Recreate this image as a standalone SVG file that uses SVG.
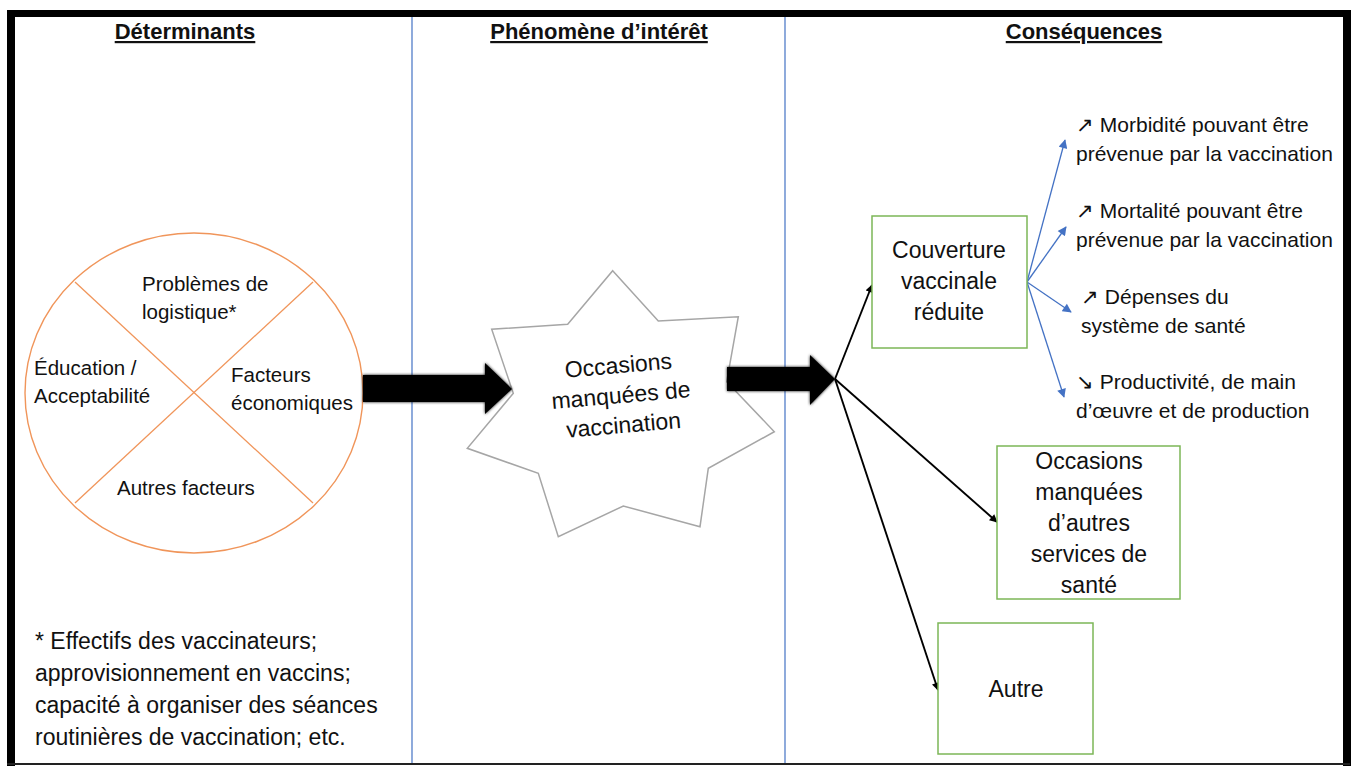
<svg xmlns="http://www.w3.org/2000/svg" width="1353" height="766" viewBox="0 0 1353 766">
<style>
text{font-family:"Liberation Sans",Arial,sans-serif;fill:#111}
.hdr{font-size:22px;font-weight:bold;text-decoration:underline;text-anchor:middle}
.c{font-size:20.5px}
.r{font-size:21px}
.box{fill:#fff;stroke:#7CB657;stroke-width:1.5}
.bt{font-size:23px;text-anchor:middle}
.fn{font-size:23px}
.div{stroke:#4472C4;stroke-width:1.2}
.blk{stroke:#000;stroke-width:1.9;fill:none}
.blu{stroke:#4472C4;stroke-width:1.3;fill:none}
</style>
<defs>
<marker id="mb" viewBox="0 0 10 10" refX="9" refY="5" markerWidth="9" markerHeight="8" markerUnits="userSpaceOnUse" orient="auto"><path d="M0,0 L10,5 L0,10 z" fill="#000"/></marker>
<marker id="mu" viewBox="0 0 10 10" refX="9" refY="5" markerWidth="10" markerHeight="9" markerUnits="userSpaceOnUse" orient="auto"><path d="M0,0 L10,5 L0,10 z" fill="#4472C4"/></marker>
<filter id="soft" x="-10%" y="-30%" width="120%" height="160%"><feGaussianBlur stdDeviation="1.5"/></filter>
</defs>
<rect width="1353" height="766" fill="#fff"/>
<g id="frame">
<rect x="7" y="10" width="1343" height="7" fill="#000"/>
<rect x="7" y="10" width="8" height="756" fill="#000"/>
<rect x="1343" y="10" width="8" height="756" fill="#000"/>
<line x1="7" y1="764" x2="1350" y2="764" stroke="#222" stroke-width="2"/>
<line class="div" x1="412" y1="17" x2="412" y2="763"/>
<line class="div" x1="785" y1="17" x2="785" y2="763"/>
</g>
<g id="headers">
<text class="hdr" x="185" y="39">Déterminants</text>
<text class="hdr" x="599" y="39">Phénomène d’intérêt</text>
<text class="hdr" x="1084" y="39">Conséquences</text>
</g>
<g id="determinants">
<ellipse cx="194" cy="393" rx="169" ry="160" fill="#fff" stroke="#F0955A" stroke-width="1.4"/>
<line x1="75" y1="282" x2="313" y2="503" stroke="#F0955A" stroke-width="1.3"/>
<line x1="313" y1="282" x2="75" y2="503" stroke="#F0955A" stroke-width="1.3"/>
<text class="c" x="142" y="291">Problèmes de</text>
<text class="c" x="142" y="319">logistique*</text>
<text class="c" x="34" y="375">Éducation /</text>
<text class="c" x="34" y="403">Acceptabilité</text>
<text class="c" x="231" y="382">Facteurs</text>
<text class="c" x="231" y="410">économiques</text>
<text class="c" x="117" y="495">Autres facteurs</text>
</g>
<g id="footnote">
<text class="fn" x="35" y="649">* Effectifs des vaccinateurs;</text>
<text class="fn" x="35" y="681">approvisionnement en vaccins;</text>
<text class="fn" x="35" y="713">capacité à organiser des séances</text>
<text class="fn" x="35" y="745">routinières de vaccination; etc.</text>
</g>
<g id="phenomene">
<polygon points="612.7,270.7 658.3,321 738.3,316.7 726.7,381.7 774.3,431.7 708.3,468.3 700,526.7 623.3,506 558.3,536.7 538.3,473.3 467.3,448.3 513.3,393.3 491.7,329.3 567.7,324.3" fill="#fff" stroke="#A6A6A6" stroke-width="1.5"/>
<g transform="rotate(-5 621 396)">
<text class="bt" x="621" y="373">Occasions</text>
<text class="bt" x="621" y="403">manquées de</text>
<text class="bt" x="621" y="433">vaccination</text>
</g>
</g>
<g id="bigarrows">
<polygon points="363,375 485,375 485,363 512,389 485,414 485,402 363,402" fill="#000" filter="url(#soft)"/>
<polygon points="363,375 485,375 485,363 512,389 485,414 485,402 363,402" fill="#000"/>
<polygon points="727,367 810,367 810,355 835,379 810,405 810,391 727,391" fill="#000" filter="url(#soft)"/>
<polygon points="727,367 810,367 810,355 835,379 810,405 810,391 727,391" fill="#000"/>
</g>
<g id="connectors">
<line class="blk" x1="835" y1="379" x2="872" y2="285" marker-end="url(#mb)"/>
<line class="blk" x1="835" y1="379" x2="997" y2="522" marker-end="url(#mb)"/>
<line class="blk" x1="835" y1="379" x2="938" y2="690" marker-end="url(#mb)"/>
<line class="blu" x1="1027" y1="282" x2="1065" y2="140" marker-end="url(#mu)"/>
<line class="blu" x1="1027" y1="282" x2="1066" y2="227" marker-end="url(#mu)"/>
<line class="blu" x1="1027" y1="282" x2="1071" y2="312" marker-end="url(#mu)"/>
<line class="blu" x1="1027" y1="282" x2="1064" y2="397" marker-end="url(#mu)"/>
</g>
<g id="couverture">
<rect class="box" x="872" y="216" width="155" height="132"/>
<text class="bt" x="949" y="258">Couverture</text>
<text class="bt" x="949" y="289">vaccinale</text>
<text class="bt" x="949" y="320">réduite</text>
</g>
<g id="autres-services">
<rect class="box" x="997" y="446" width="183" height="153"/>
<text class="bt" x="1089" y="469">Occasions</text>
<text class="bt" x="1089" y="500">manquées</text>
<text class="bt" x="1089" y="531">d’autres</text>
<text class="bt" x="1089" y="562">services de</text>
<text class="bt" x="1089" y="593">santé</text>
</g>
<g id="autre">
<rect class="box" x="938" y="623" width="155" height="131"/>
<text class="bt" x="1016" y="697">Autre</text>
</g>
<g id="morbidite"><text class="r" x="1076" y="132">↗ Morbidité pouvant être</text><text class="r" x="1076" y="161">prévenue par la vaccination</text></g>
<g id="mortalite"><text class="r" x="1076" y="218">↗ Mortalité pouvant être</text><text class="r" x="1076" y="247">prévenue par la vaccination</text></g>
<g id="depenses"><text class="r" x="1081" y="304">↗ Dépenses du</text><text class="r" x="1081" y="333">système de santé</text></g>
<g id="productivite"><text class="r" x="1076" y="389">↘ Productivité, de main</text><text class="r" x="1076" y="418">d’œuvre et de production</text></g>
</svg>
